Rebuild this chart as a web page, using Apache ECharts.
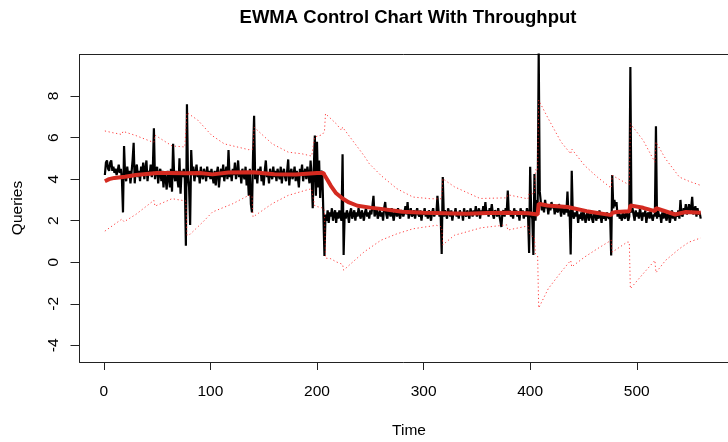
<!DOCTYPE html>
<html><head><meta charset="utf-8">
<script src="https://cdn.jsdelivr.net/npm/echarts@6/dist/echarts.min.js"></script>
<style>html,body{margin:0;padding:0;background:#fff}#c{width:728px;height:442px}</style>
</head><body><div id="c"></div><script>
// Throughput (queries) per time step, t = 1..560
const throughput = [
4.2,4.8,4.9,4.5,4.4,4.8,4.9,4.4,4.6,4.3,4.5,4.2,4.4,4.7,4.3,4.5,4.0,2.4,5.6,4.2,
3.9,4.6,4.1,4.4,3.8,4.3,4.9,5.75,3.8,4.5,4.7,4.1,4.4,3.9,4.6,4.3,4.8,4.0,4.5,4.9,
3.9,4.4,4.2,4.7,4.1,4.5,6.45,4.0,4.4,4.6,3.8,4.3,4.5,3.9,4.4,3.6,4.3,4.0,3.5,4.4,
4.1,3.6,4.5,3.4,5.7,4.2,3.9,4.4,4.0,3.6,5.0,3.3,4.4,4.1,4.5,4.0,0.8,7.6,4.1,3.6,
1.8,5.4,4.2,4.6,3.9,4.3,4.7,4.1,4.4,3.8,4.6,4.2,4.0,4.5,4.3,3.9,4.6,4.1,4.4,4.0,
4.5,4.1,3.8,4.4,3.7,4.3,4.6,3.6,4.2,4.5,4.1,4.7,3.9,4.3,4.6,4.0,5.4,4.1,4.4,3.9,
4.5,4.2,4.8,4.0,4.3,4.9,4.1,4.4,3.8,4.5,4.2,4.0,4.6,3.7,4.3,3.2,4.5,2.8,2.4,5.1,
7.05,4.0,4.4,3.8,4.5,4.2,4.6,3.9,4.3,3.7,4.4,4.9,4.1,4.3,3.8,4.5,4.2,4.0,4.6,4.1,
4.4,3.9,4.5,4.2,4.0,4.6,3.8,4.3,4.5,4.1,3.9,4.4,4.95,3.7,4.3,4.5,4.0,4.2,4.6,3.9,
4.4,4.1,3.6,4.5,4.2,4.7,3.9,4.3,4.5,4.0,4.6,4.2,3.8,4.9,4.1,2.6,4.5,6.1,3.2,5.8,
3.6,4.9,3.1,4.4,4.3,2.3,0.3,2.3,2.0,2.5,1.9,2.4,2.2,2.6,2.0,2.3,2.5,1.9,2.4,2.1,
2.5,2.2,2.0,5.2,0.35,2.4,2.1,2.5,2.3,1.9,2.4,2.6,2.1,2.3,2.5,2.0,2.4,2.2,2.6,2.3,
2.1,2.5,2.3,2.0,2.4,2.6,2.2,2.4,2.1,2.5,2.3,2.7,3.2,2.2,2.4,2.6,2.1,2.3,2.5,2.2,
2.4,2.0,2.6,2.9,2.3,2.1,2.5,2.4,2.2,2.6,2.3,2.0,2.4,2.5,2.2,2.6,2.3,2.1,2.4,2.5,
2.2,2.4,2.7,2.3,2.9,2.1,2.4,2.6,2.2,2.3,2.5,2.1,2.4,2.6,2.3,2.2,2.5,2.0,2.4,2.3,
2.6,2.2,2.4,2.1,2.5,2.3,2.0,2.4,2.6,2.2,2.4,2.3,3.2,2.5,2.2,2.4,0.4,4.1,2.2,2.5,
2.3,2.1,2.6,2.4,2.2,2.5,2.0,2.4,2.3,2.6,2.2,2.4,2.1,2.5,2.3,2.4,2.0,2.6,2.3,2.2,
2.5,2.3,2.1,2.6,2.4,2.2,2.5,2.3,2.7,2.2,2.4,2.6,2.1,2.5,2.3,2.7,2.4,2.9,2.3,2.5,
2.2,2.6,2.4,2.8,2.3,2.1,2.5,2.4,2.2,2.6,2.3,2.0,1.7,2.4,2.5,2.2,2.6,2.4,3.45,2.3,
2.5,2.2,2.4,2.1,2.6,2.3,2.5,2.2,2.4,2.0,2.6,2.3,2.5,2.1,2.4,2.2,2.6,2.3,0.45,4.6,
2.3,2.1,0.35,4.25,2.0,3.0,2.4,10.2,3.4,2.9,2.5,2.7,2.4,3.0,2.6,2.8,2.3,2.7,2.5,2.9,
2.6,2.8,2.3,2.7,2.5,2.4,2.8,2.6,2.2,2.7,2.5,2.3,2.6,2.4,3.4,2.2,2.5,0.37,4.4,2.3,
2.1,2.4,2.2,2.5,1.9,2.3,2.1,2.4,2.0,2.5,2.2,1.9,2.3,2.4,2.0,2.2,2.5,2.1,1.9,2.3,
2.4,2.0,2.3,2.1,2.5,2.2,1.9,2.4,2.1,2.3,2.0,2.4,2.2,2.1,2.3,0.33,4.2,2.6,3.0,2.7,
2.9,2.2,2.5,2.1,2.3,2.0,2.4,2.2,2.1,2.5,2.3,2.0,2.2,9.4,2.4,2.6,2.3,2.0,2.5,2.2,
2.4,2.1,2.6,2.3,2.0,2.4,2.2,2.5,1.9,2.3,2.4,2.1,2.5,2.2,2.0,2.3,2.2,6.55,2.1,2.5,
2.2,2.3,1.9,2.4,2.1,2.5,2.2,2.0,2.4,2.3,1.9,2.2,2.5,2.1,2.4,2.0,2.3,2.2,2.5,2.1,
3.0,2.3,2.2,2.6,2.4,2.8,2.3,2.5,2.8,2.4,2.6,3.15,2.3,2.5,2.7,2.2,2.6,2.3,2.4,2.1
];

// EWMA statistic (read at key times)
const ewmaTime  = [1,5,10,20,30,40,50,60,77,78,90,102,117,140,160,180,200,206,207,210,213,218,224,230,238,250,260,280,300,320,340,360,380,398,407,408,416,435,453,476,477,481,493,494,506,517,518,536,546,560];
const ewmaValue = [3.9,4.0,4.06,4.12,4.2,4.25,4.3,4.3,4.28,4.35,4.3,4.23,4.32,4.33,4.24,4.23,4.3,4.3,4.2,3.95,3.68,3.32,3.07,2.88,2.72,2.63,2.57,2.43,2.38,2.36,2.33,2.37,2.38,2.36,2.3,2.82,2.73,2.66,2.46,2.27,2.38,2.42,2.45,2.74,2.62,2.46,2.61,2.3,2.42,2.38];

// Upper control limit
const uclTime  = [1,8,17,18,30,45,47,48,64,76,77,78,88,101,113,121,136,140,141,158,173,186,195,196,198,205,207,208,218,223,224,244,249,260,275,290,306,316,317,318,329,353,378,379,398,399,404,405,407,408,417,429,438,439,451,463,476,477,491,493,494,506,517,518,527,540,549,560];
const uclValue = [6.32,6.24,6.15,6.3,6.1,5.8,5.78,6.12,5.6,5.55,5.5,7.2,6.85,6.12,5.7,5.6,5.42,5.45,6.5,5.7,5.3,5.22,5.11,5.45,6.03,6.14,6.3,7.15,6.67,6.35,6.5,5.14,4.75,4.18,3.54,3.14,3.06,3.05,3.2,4.02,3.63,3.07,3.1,3.25,3.05,3.3,3.3,4.45,4.4,7.8,6.91,5.79,5.22,5.45,4.66,4.1,3.57,4.18,3.78,3.75,6.67,5.87,4.82,5.79,4.98,4.1,3.9,3.7];

// Lower control limit
const lclTime  = [1,17,18,19,30,47,48,64,77,78,81,93,102,121,136,139,140,158,173,189,195,196,198,206,207,208,213,218,224,225,244,260,275,290,312,317,318,329,354,378,379,398,400,404,405,407,408,417,429,438,439,451,463,476,477,491,493,494,506,517,518,527,540,549,560];
const lclValue = [1.5,2.08,2.1,1.95,2.3,2.98,2.7,3.06,2.95,1.3,1.35,1.94,2.42,2.82,3.22,3.2,2.18,2.82,3.22,3.46,3.54,3.2,2.71,2.6,2.5,0.2,0.17,0.02,-0.1,-0.38,0.49,1.06,1.37,1.61,1.78,1.7,0.84,1.3,1.66,1.8,1.55,1.75,1.3,1.2,0.4,0.3,-2.2,-1.27,-0.47,0.09,-0.22,0.25,0.65,1.06,0.49,0.97,0.97,-1.27,-0.55,0.09,-0.5,0.09,0.65,0.97,1.17];

const xTicks = [0,100,200,300,400,500];
const yTicks = [-4,-2,0,2,4,6,8];

const FONT = '"Liberation Sans", Arial, Helvetica, sans-serif';
const pairs = (ts, vs) => ts.map((t, i) => [t, vs[i]]);

const chart = echarts.init(document.getElementById('c'), null, {renderer: 'canvas'});
const dotted = {color: '#ff2020', width: 1, type: [1.2, 2.6], opacity: 0.85};
chart.setOption({
  animation: false,
  backgroundColor: '#ffffff',
  grid: {left: 79.5, right: -10, top: 54.5, bottom: 80, containLabel: false},
  xAxis: [{
    type: 'value', min: -22.8, max: 585.6,
    axisLine: {show: true, onZero: false, lineStyle: {color: '#222', width: 1}},
    axisTick: {show: true, length: 8, lineStyle: {color: '#222'}, customValues: xTicks},
    axisLabel: {fontFamily: FONT, fontSize: 15.5, color: '#000', margin: 22, customValues: xTicks},
    splitLine: {show: false}
  }, {
    type: 'value', position: 'top', min: -22.8, max: 585.6,
    axisLine: {show: true, onZero: false, lineStyle: {color: '#222', width: 1}},
    axisTick: {show: false}, axisLabel: {show: false}, splitLine: {show: false}
  }],
  yAxis: {
    type: 'value', min: -4.8, max: 10,
    axisLine: {show: true, onZero: false, lineStyle: {color: '#222', width: 1}},
    axisTick: {show: true, length: 9, lineStyle: {color: '#222'}, customValues: yTicks},
    axisLabel: {fontFamily: FONT, fontSize: 15.5, color: '#000', rotate: 90, margin: 18, customValues: yTicks},
    splitLine: {show: false}
  },
  graphic: [
    {type: 'text', x: 408, y: 18, style: {text: 'EWMA Control Chart With Throughput', font: 'bold 18.5px ' + FONT, fill: '#000', align: 'center', verticalAlign: 'middle'}},
    {type: 'text', x: 409, y: 431, style: {text: 'Time', font: '15.5px ' + FONT, fill: '#000', align: 'center', verticalAlign: 'middle'}},
    {type: 'text', x: 18, y: 208, rotation: Math.PI / 2, style: {text: 'Queries', font: '15.5px ' + FONT, fill: '#000', align: 'center', verticalAlign: 'middle'}}
  ],
  series: [
    {type: 'line', name: 'Throughput', data: throughput.map((v, i) => [i + 1, v]), symbol: 'none', clip: true,
     lineStyle: {color: '#000', width: 2.2}, z: 2},
    {type: 'line', name: 'EWMA', data: pairs(ewmaTime, ewmaValue), symbol: 'none', clip: true,
     lineStyle: {color: '#d42a20', width: 4}, z: 3},
    {type: 'line', name: 'UCL', data: pairs(uclTime, uclValue), symbol: 'none', clip: true, lineStyle: dotted, z: 4},
    {type: 'line', name: 'LCL', data: pairs(lclTime, lclValue), symbol: 'none', clip: true, lineStyle: dotted, z: 4}
  ]
});
</script></body></html>
